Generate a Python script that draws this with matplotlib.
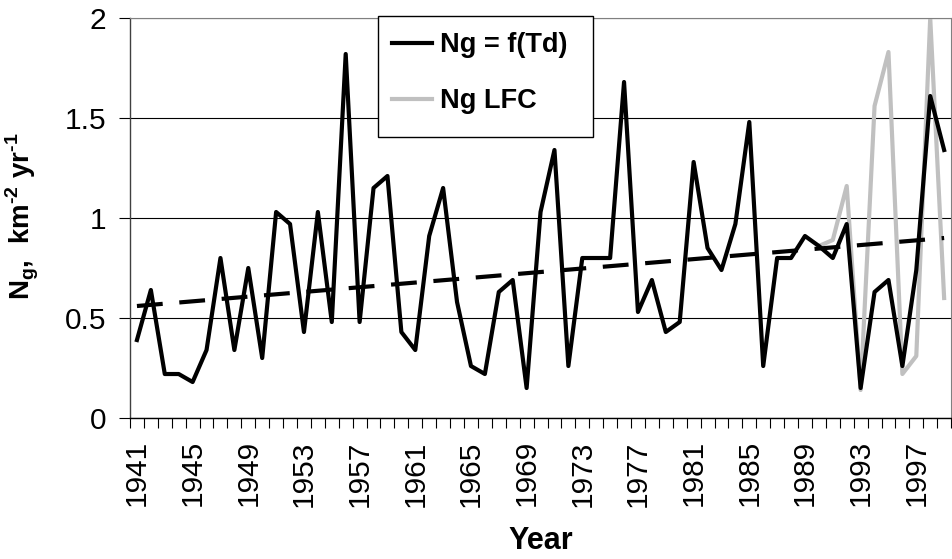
import numpy as np
import matplotlib
matplotlib.use('Agg')
import matplotlib.pyplot as plt
from matplotlib.patches import Rectangle
from matplotlib.ticker import MultipleLocator, FixedLocator, FormatStrFormatter

plt.rcParams['font.family'] = ['Liberation Sans', 'DejaVu Sans']
plt.rcParams['mathtext.fontset'] = 'custom'
plt.rcParams['mathtext.rm'] = 'Liberation Sans'
plt.rcParams['mathtext.bf'] = 'Liberation Sans:bold'

years = list(range(1941, 2000))
ng_td = [0.39, 0.64, 0.22, 0.22, 0.18, 0.34, 0.80, 0.34, 0.75, 0.30,
         1.03, 0.97, 0.43, 1.03, 0.48, 1.82, 0.48, 1.15, 1.21, 0.43,
         0.34, 0.91, 1.15, 0.58, 0.26, 0.22, 0.63, 0.69, 0.15, 1.03,
         1.34, 0.26, 0.80, 0.80, 0.80, 1.68, 0.53, 0.69, 0.43, 0.48,
         1.28, 0.85, 0.74, 0.97, 1.48, 0.26, 0.80, 0.80, 0.91, 0.86,
         0.80, 0.97, 0.15, 0.63, 0.69, 0.26, 0.74, 1.61, 1.34]
lfc_years = list(range(1990, 2000))
ng_lfc = [0.86, 0.89, 1.16, 0.14, 1.56, 1.83, 0.22, 0.31, 2.00, 0.60]
trend_ends = [0.56, 0.90]
tick_years = list(range(1941, 2000, 4))

fig = plt.figure(figsize=(9.53, 5.59), dpi=100)
ax = fig.add_axes([0.1364, 0.2522, 0.8616, 0.7156])

ax.plot(lfc_years, ng_lfc, color='#c0c0c0', lw=3.0, zorder=2, label='Ng LFC')
ax.plot(years, ng_td, color='black', lw=3.0, zorder=3, label='Ng = f(Td)')
ax.plot([years[0], years[-1]], trend_ends, color='black', lw=3.0,
        dashes=(6.2, 4.0), zorder=3)

ax.set_xlim(years[0] - 0.5, years[-1] + 0.5)
ax.set_ylim(0, 2)
ax.yaxis.set_major_locator(MultipleLocator(0.5))
ax.yaxis.set_major_formatter(FormatStrFormatter('%g'))
ax.yaxis.grid(True, color='black', lw=0.8)
ax.set_axisbelow(True)

ax.xaxis.set_major_locator(FixedLocator(tick_years))
ax.set_xticklabels([str(y) for y in tick_years], rotation=90)
ax.xaxis.set_minor_locator(FixedLocator(np.arange(years[0] - 0.5, years[-1] + 1, 1)))
ax.tick_params(axis='x', which='major', length=0, pad=16, labelsize=21.5)
ax.tick_params(axis='x', which='minor', length=7, width=0.8, direction='out')
ax.tick_params(axis='y', length=8, width=0.8, direction='out', pad=9, labelsize=21.5)

for s in ['top', 'right']:
    ax.spines[s].set_color('#808080')
    ax.spines[s].set_linewidth(0.8)
ax.spines['left'].set_color('#404040')
ax.spines['left'].set_linewidth(1.0)
ax.spines['bottom'].set_linewidth(1.0)

ax.set_xlabel('Year', fontsize=22, fontweight='bold')
ax.xaxis.set_label_coords(0.5, -0.27)
ax.set_ylabel('N$_\\mathbf{g}$,  km$^\\mathbf{\u20102}$ yr$^\\mathbf{\u20101}$',
              fontsize=20, fontweight='bold')
ax.yaxis.set_label_coords(-0.108, 0.505)

# legend box drawn separately so the padding matches the original
ax.add_patch(Rectangle((0.302, 0.7025), 0.262, 0.3025, transform=ax.transAxes,
                       facecolor='white', edgecolor='black', lw=1.0,
                       clip_on=False, zorder=5))
handles, labels = ax.get_legend_handles_labels()
leg = ax.legend(handles[::-1], labels[::-1], loc='upper left',
                bbox_to_anchor=(0.302, 0.998), frameon=False,
                borderaxespad=0, prop={'weight': 'bold', 'size': 19.5},
                handlelength=1.5, handletextpad=0.3, labelspacing=1.1,
                borderpad=0.5)
leg.set_zorder(6)

plt.savefig('out.png', dpi=100)
